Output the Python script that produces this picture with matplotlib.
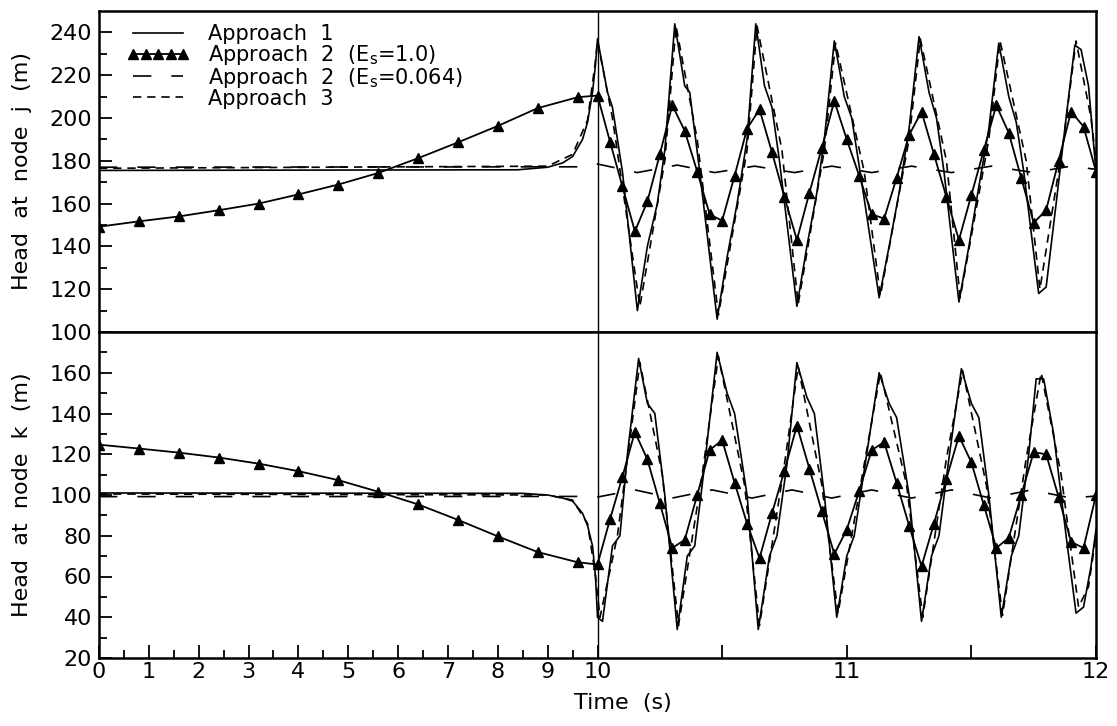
import numpy as np
import matplotlib

matplotlib.use("Agg")
import matplotlib.pyplot as plt

plt.rcParams["font.family"] = ["DejaVu Sans"]

# ---- data ----
# Approach 2 (Es=1.0): marker points
T_TRI = [0, 0.8, 1.6, 2.4, 3.2, 4.0, 4.8, 5.6, 6.4, 7.2, 8.0, 8.8, 9.6, 10.0,
         10.05, 10.10, 10.15, 10.20, 10.25, 10.30, 10.35, 10.40, 10.45, 10.50,
         10.55, 10.60, 10.65, 10.70, 10.75, 10.80, 10.85, 10.90, 10.95, 11.00,
         11.05, 11.10, 11.15, 11.20, 11.25, 11.30, 11.35, 11.40, 11.45, 11.50,
         11.55, 11.60, 11.65, 11.70, 11.75, 11.80, 11.85, 11.90, 11.95, 12.00]
J_TRI = [149.2, 151.7, 154, 156.9, 160, 164.3, 168.9, 174.3, 181.2, 188.6,
         196.3, 204.6, 209.7, 210.5,
         189, 168, 147, 161, 183, 206, 194, 175, 155, 152,
         173, 195, 204, 184, 163, 143, 165, 186, 208, 190,
         173, 155, 153, 172, 192, 203, 183, 163, 143, 164,
         185, 206, 193, 172, 151, 157, 180, 203, 196, 175]
K_TRI = [124.7, 122.8, 120.8, 118.4, 115.4, 111.7, 107.3, 101.6, 95.4, 87.8,
         79.7, 72, 67, 65.9,
         88, 109, 131, 117.5, 96, 74, 78, 100, 122, 127,
         106, 86, 69, 91, 112, 134, 113, 92, 71, 83,
         102, 122, 126, 106, 85, 65, 86, 108, 129, 116,
         95, 74, 79, 100, 121, 120, 99, 77, 74, 100]

# Approach 1, node j
T_A1_J = [0, 8.4, 9.0, 9.3, 9.5, 9.7, 9.8, 9.9, 9.96, 10.0,
          10.04, 10.06, 10.10, 10.16, 10.20, 10.24, 10.27, 10.31, 10.35, 10.37,
          10.41, 10.48, 10.52, 10.56, 10.60, 10.635, 10.67, 10.70, 10.73, 10.80,
          10.84, 10.88, 10.91, 10.95, 10.99, 11.02, 11.06, 11.13, 11.17, 11.21,
          11.25, 11.29, 11.33, 11.36, 11.39, 11.45, 11.49, 11.53, 11.57, 11.61,
          11.65, 11.68, 11.71, 11.77, 11.80, 11.84, 11.88, 11.915, 11.94, 11.97,
          12.0]
J_A1 = [175.5, 175.8, 177, 179, 182, 190, 198, 212, 225, 237,
        212, 205, 175, 110, 140, 160, 185, 244, 215, 212,
        175, 106, 135, 160, 190, 244, 215, 205, 180, 112,
        140, 165, 190, 236, 210, 200, 170, 116, 140, 165,
        195, 238, 212, 200, 175, 114, 140, 168, 195, 235,
        210, 198, 175, 118, 121, 160, 200, 234, 232, 215,
        175]

# Approach 3, node j
T_A3_J = [0, 9.0, 9.5, 9.8, 9.95, 10.0, 10.06, 10.17, 10.27, 10.315,
          10.40, 10.485, 10.60, 10.64, 10.74, 10.805, 10.91, 10.955, 11.07, 11.135,
          11.25, 11.295, 11.40, 11.455, 11.57, 11.615, 11.72, 11.775, 11.87, 11.92,
          11.98, 12.0]
J_A3 = [176.5, 177.5, 183, 199, 225, 236, 200, 112, 180, 243,
        190, 108, 185, 243, 185, 113, 185, 235, 175, 117,
        190, 237, 180, 116, 190, 236, 180, 120, 190, 236,
        200, 180]

# Approach 2 (Es=0.064), node j
T_B_J = [0, 9.9, 10.0, 10.16, 10.32, 10.47, 10.63, 10.79, 10.94, 11.10,
         11.26, 11.42, 11.58, 11.75, 11.9, 12.0]
J_B = [177, 177.2, 178.5, 174.5, 178, 174.5, 177.5, 174.5, 177.5, 174.5,
       177.5, 174.5, 177.5, 174.5, 177.5, 176]

# Approach 1, node k
T_A1_K = [0, 8.5, 9.0, 9.3, 9.5, 9.7, 9.8, 9.9, 9.96, 10.0,
          10.02, 10.06, 10.09, 10.12, 10.165, 10.20, 10.23, 10.27, 10.32, 10.36,
          10.39, 10.43, 10.48, 10.52, 10.55, 10.60, 10.645, 10.69, 10.72, 10.76,
          10.80, 10.84, 10.87, 10.91, 10.96, 11.00, 11.03, 11.08, 11.13, 11.17,
          11.20, 11.25, 11.30, 11.34, 11.37, 11.41, 11.46, 11.50, 11.53, 11.57,
          11.62, 11.66, 11.69, 11.73, 11.76, 11.79, 11.83, 11.88, 11.92, 11.95,
          11.98, 12.0]
K_A1 = [101, 100.8, 100, 98.5, 97, 91, 85, 75, 60, 40,
        38, 75, 80, 120, 167, 145, 140, 100, 34, 70,
        75, 115, 170, 150, 140, 100, 34, 70, 80, 115,
        165, 148, 140, 100, 40, 70, 80, 120, 160, 145,
        138, 100, 38, 70, 80, 118, 162, 145, 138, 100,
        40, 70, 80, 120, 157, 157, 130, 80, 42, 45,
        65, 83]

# Approach 3, node k
T_A3_K = [0, 9.0, 9.5, 9.8, 9.95, 10.01, 10.08, 10.17, 10.26, 10.325,
          10.42, 10.485, 10.59, 10.65, 10.75, 10.805, 10.90, 10.965, 11.07, 11.135,
          11.24, 11.305, 11.40, 11.465, 11.56, 11.625, 11.72, 11.78, 11.86, 11.93,
          11.97, 12.0]
K_A3 = [100.5, 100, 97.5, 86, 62, 40, 80, 165, 110, 36,
        110, 168, 105, 36, 115, 163, 105, 42, 115, 160,
        105, 40, 118, 161, 105, 41, 118, 160, 110, 45,
        55, 80]

# Approach 2 (Es=0.064), node k
T_B_K = [0, 9.9, 10.0, 10.15, 10.3, 10.46, 10.62, 10.78, 10.94, 11.10,
         11.26, 11.42, 11.58, 11.74, 11.9, 12.0]
K_B = [99.2, 99.3, 99, 102.5, 98.5, 102.5, 98.5, 102.5, 98.5, 102.5,
       98.5, 102.5, 98.5, 102.5, 98.5, 99.5]

X_LABELS = ["0", "1", "2", "3", "4", "5", "6", "7", "8", "9", "10", "11", "12"]


# 0-10 s compressed, 10-12 s stretched 5x
def fwd(t):
    t = np.asarray(t, dtype=float)
    return np.where(t <= 10, t, 10 + 5 * (t - 10))


def inv(u):
    u = np.asarray(u, dtype=float)
    return np.where(u <= 10, u, 10 + (u - 10) / 5)


W, H = 1117, 726
fig = plt.figure(figsize=(W / 100, H / 100), dpi=100)
L, R = 99 / W, 1096 / W
ax_j = fig.add_axes([L, 1 - 332 / H, R - L, 321 / H])
ax_k = fig.add_axes([L, 1 - 658 / H, R - L, 326 / H])

solid = dict(color="black", lw=1.2, ls="-")
longd = dict(color="black", lw=1.2, ls=(0, (11, 12)))
shortd = dict(color="black", lw=1.2, ls=(0, (5, 3.5)))
tri = dict(color="black", lw=1.3, marker="^", ms=7)

for ax, a1t, a1, a3t, a3, bt, b, ktri in [
    (ax_j, T_A1_J, J_A1, T_A3_J, J_A3, T_B_J, J_B, J_TRI),
    (ax_k, T_A1_K, K_A1, T_A3_K, K_A3, T_B_K, K_B, K_TRI),
]:
    ax.plot(a1t, a1, label="Approach  1", **solid)
    ax.plot(T_TRI, ktri, label=r"Approach  2  ($\mathregular{E_s}$=1.0)", **tri)
    ax.plot(bt, b, label=r"Approach  2  ($\mathregular{E_s}$=0.064)", **longd)
    ax.plot(a3t, a3, label="Approach  3", **shortd)
    ax.axvline(10, color="black", lw=1.0)
    ax.set_xscale("function", functions=(fwd, inv))
    ax.set_xlim(0, 12)
    for s in ax.spines.values():
        s.set_linewidth(1.8)
    ax.tick_params(axis="both", which="both", direction="in", labelsize=16,
                   width=1.3, top=False, right=False)
    ax.tick_params(axis="both", which="major", length=9.5)
    ax.tick_params(axis="both", which="minor", length=5.5)
    ax.tick_params(axis="y", pad=5)

ax_j.set_ylim(100, 250)
ax_j.set_yticks(np.arange(100, 241, 20))
ax_j.set_yticks(np.arange(110, 241, 20), minor=True)
ax_j.set_xticks([])
ax_j.set_xticks([], minor=True)

ax_k.set_ylim(20, 180)
ax_k.set_yticks(np.arange(20, 161, 20))
ax_k.set_yticks(np.arange(30, 171, 20), minor=True)
ax_k.set_xticks(list(range(13)) + [10.5, 11.5])
ax_k.set_xticklabels(X_LABELS + ["", ""])
ax_k.set_xticks(np.arange(0.5, 10, 1.0), minor=True)
ax_k.tick_params(axis="x", pad=3)

fig.text(22 / W, 1 - 171 / H, "Head  at  node  j  (m)", rotation=90,
         ha="center", va="center", fontsize=16)
fig.text(22 / W, 1 - 495 / H, "Head  at  node  k  (m)", rotation=90,
         ha="center", va="center", fontsize=16)
fig.text(623 / W, 1 - 703 / H, "Time  (s)", ha="center", va="center",
         fontsize=16)

ax_j.legend(loc="upper left", bbox_to_anchor=(0.028, 0.96), frameon=False,
            fontsize=15, numpoints=5, handlelength=3.0, handletextpad=0.9,
            labelspacing=-0.05, borderpad=0, borderaxespad=0)

fig.savefig("out.png", dpi=100)
